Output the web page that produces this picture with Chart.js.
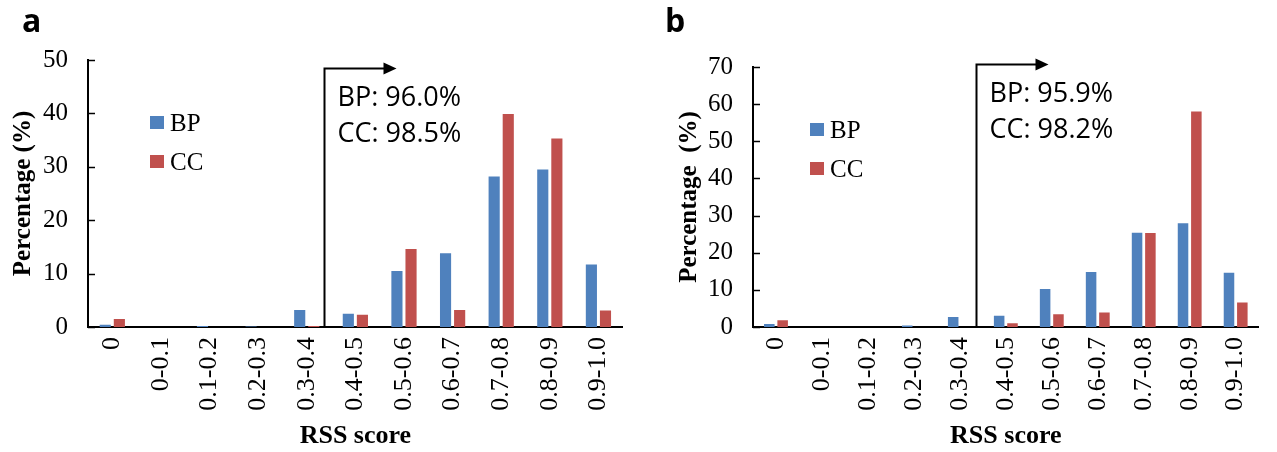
<!DOCTYPE html>
<html>
<head>
<meta charset="utf-8">
<script src="https://cdn.jsdelivr.net/npm/chart.js@4.4.0/dist/chart.umd.min.js"></script>
<style>
    html, body { margin: 0; padding: 0; background: #fff; }
    #wrap { position: relative; width: 1277px; height: 452px; }
    .panel { position: absolute; top: 0; height: 452px; }
</style>
</head>
<body>
<div id="wrap">
    <div class="panel" style="left:0;width:640px"><canvas id="chartA"></canvas></div>
    <div class="panel" style="left:640px;width:637px"><canvas id="chartB"></canvas></div>
</div>
<script>
// Categories of the RSS score
const categories = ['0', '0-0.1', '0.1-0.2', '0.2-0.3', '0.3-0.4', '0.4-0.5',
                    '0.5-0.6', '0.6-0.7', '0.7-0.8', '0.8-0.9', '0.9-1.0'];
const seriesNames = ['BP', 'CC'];

// Panel a values (%)
const bpA = [0.4, 0, 0.2, 0.1, 3.2, 2.5, 10.5, 13.8, 28.2, 29.5, 11.7];
const ccA = [1.5, 0, 0, 0, 0.2, 2.3, 14.6, 3.2, 39.9, 35.3, 3.1];
const yMaxA = 50;
const summaryA = ['BP: 96.0%', 'CC: 98.5%'];

// Panel b values (%)
const bpB = [0.8, 0, 0, 0.4, 2.7, 3.0, 10.2, 14.8, 25.4, 27.9, 14.6];
const ccB = [1.8, 0, 0, 0, 0, 1.0, 3.4, 3.9, 25.3, 58.0, 6.6];
const yMaxB = 70;
const summaryB = ['BP: 95.9%', 'CC: 98.2%'];

const colors = ['#4F81BD', '#C0504D'];
const serif = '"Liberation Serif", "Times New Roman", serif';
const sans = '"Open Sans", "Noto Sans", sans-serif';

// Inner tick marks, legend, threshold arrow and panel letter
const overlay = {
    id: 'overlay',
    afterDraw(chart, args, opts) {
        const ctx = chart.ctx;
        const xs = chart.scales.x, ys = chart.scales.y;
        const area = chart.chartArea;
        ctx.save();

        // tick marks pointing into the plot
        ctx.strokeStyle = '#000';
        ctx.lineWidth = 1.5;
        ys.ticks.forEach(t => {
            const py = Math.round(ys.getPixelForValue(t.value)) + 0.5;
            ctx.beginPath();
            ctx.moveTo(area.left, py);
            ctx.lineTo(area.left + 7, py);
            ctx.stroke();
        });

        // legend
        ctx.font = '25px ' + serif;
        ctx.textBaseline = 'alphabetic';
        ctx.textAlign = 'left';
        chart.data.datasets.forEach((ds, i) => {
            const top = opts.legend.y + i * 39;
            ctx.fillStyle = ds.backgroundColor;
            ctx.fillRect(opts.legend.x, top, 14, 13);
            ctx.fillStyle = '#000';
            ctx.fillText(ds.label, opts.legend.x + 20, top + 15);
        });

        // arrow from the 0.4 threshold
        const lx = Math.round(xs.getPixelForValue(opts.splitAt)) + 0.5;
        const ty = Math.round(ys.getPixelForValue(opts.arrowTop)) + 0.5;
        const by = ys.getPixelForValue(0);
        ctx.lineWidth = 2;
        ctx.beginPath();
        ctx.moveTo(lx, by);
        ctx.lineTo(lx, ty);
        ctx.lineTo(lx + 62, ty);
        ctx.stroke();
        ctx.beginPath();
        ctx.moveTo(lx + 72, ty);
        ctx.lineTo(lx + 59, ty - 6);
        ctx.lineTo(lx + 59, ty + 6);
        ctx.closePath();
        ctx.fillStyle = '#000';
        ctx.fill();

        ctx.font = '27px ' + sans;
        opts.summary.forEach((s, i) => {
            ctx.fillText(s, lx + 13, ty + 37 + i * 36);
        });

        // panel letter
        ctx.font = 'bold 32px ' + sans;
        ctx.fillText(opts.letter, opts.letterX, 32);
        ctx.restore();
    }
};

function makeChart(id, bp, cc, yMax, axisWidth, titlePad, yTitle, padding, extra) {
    return new Chart(document.getElementById(id), {
        type: 'bar',
        data: {
            labels: categories,
            datasets: [
                { label: seriesNames[0], data: bp, backgroundColor: colors[0] },
                { label: seriesNames[1], data: cc, backgroundColor: colors[1] }
            ]
        },
        options: {
            responsive: true,
            maintainAspectRatio: false,
            animation: false,
            layout: { padding: padding },
            datasets: { bar: { categoryPercentage: 0.58, barPercentage: 0.79 } },
            scales: {
                x: {
                    grid: { display: false, drawTicks: false },
                    border: { display: true, color: '#000', width: 2 },
                    ticks: {
                        autoSkip: false, minRotation: 90, maxRotation: 90,
                        padding: 10, color: '#000',
                        font: { family: serif, size: 26 }
                    },
                    title: {
                        display: true, text: 'RSS score', color: '#000',
                        font: { family: serif, size: 26, weight: 'bold' },
                        padding: { top: 0, bottom: 0 }
                    },
                    afterFit(scale) { scale.height = 125; }
                },
                y: {
                    min: 0, max: yMax,
                    grid: { display: false, drawTicks: false },
                    border: { display: true, color: '#000', width: 2 },
                    ticks: {
                        stepSize: 10, padding: 20, color: '#000',
                        font: { family: serif, size: 25 }
                    },
                    title: {
                        display: true, text: yTitle, color: '#000',
                        font: { family: serif, size: 25, weight: 'bold' },
                        padding: { top: titlePad, bottom: 0 }
                    },
                    afterFit(scale) { scale.width = axisWidth; }
                }
            },
            plugins: {
                legend: { display: false },
                tooltip: { enabled: false },
                overlay: extra
            }
        },
        plugins: [overlay]
    });
}

makeChart('chartA', bpA, ccA, yMaxA, 88, 9, 'Percentage (%)',
    { top: 60, right: 8, bottom: 0, left: 0 },
    { legend: { x: 150, y: 116 }, splitAt: 4.35, arrowTop: 48.5,
      summary: summaryA, letter: 'a', letterX: 22 });

makeChart('chartB', bpB, ccB, yMaxB, 113, 35, 'Percentage  (%)',
    { top: 67, right: 3, bottom: 0, left: 0 },
    { legend: { x: 170, y: 123 }, splitAt: 4.35, arrowTop: 70.8,
      summary: summaryB, letter: 'b', letterX: 25 });
</script>
</body>
</html>
